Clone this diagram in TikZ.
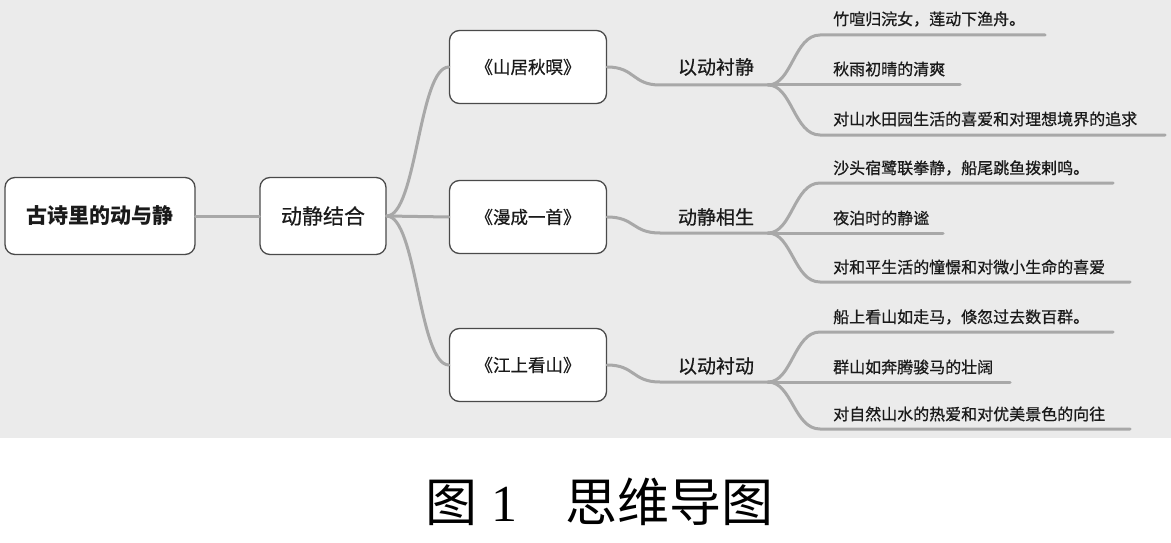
\documentclass[tikz,border=0pt]{standalone}
\usepackage{fontspec}
\setmainfont{Noto Sans CJK SC}
\newfontfamily\cjk{Noto Sans CJK SC}
\newfontfamily\cjkm[FakeBold=0.7]{Noto Sans CJK SC}
\newfontfamily\numserif{Liberation Serif}
\begin{document}
\begin{tikzpicture}[x=1pt,y=-1pt,
  box/.style={draw=boxline, fill=white, line width=1.3pt, rounded corners=10pt, inner sep=0pt, align=center, text=txt},
  rootbox/.style={box, minimum width=190pt, minimum height=77pt, font=\fontsize{21}{24}\selectfont\bfseries},
  midbox/.style={box, minimum width=126pt, minimum height=77pt, font=\cjkm\fontsize{21}{24}\selectfont},
  poembox/.style={box, minimum width=157pt, minimum height=73pt, font=\cjkm\fontsize{17.5}{20}\selectfont},
  lbl/.style={inner sep=0pt, text=txt, font=\cjkm\fontsize{19}{22}\selectfont},
  leaf/.style={anchor=west, inner sep=0pt, text=txt, font=\cjkm\fontsize{16}{19}\selectfont},
  conn/.style={draw=connc, line width=3pt, line cap=round}
]
\definecolor{bg}{HTML}{EBEBEB}
\definecolor{connc}{HTML}{A8A8A8}
\definecolor{boxline}{HTML}{4A4A4A}
\definecolor{txt}{HTML}{1A1A1A}
\useasboundingbox (0,0) rectangle (1171,543);
\fill[bg] (0,0) rectangle (1171,438);

% nodes
\node[rootbox] (root) at (100,216) {古诗里的动与静};
\node[midbox] (mid) at (323,216) {动静结合};
\node[poembox] (pA) at (528,67) {《山居秋暝》};
\node[poembox] (pB) at (528,217) {《漫成一首》};
\node[poembox] (pC) at (528,365) {《江上看山》};

\node[lbl] (lA) at (716,67) {以动衬静};
\node[lbl] (lB) at (716,217) {动静相生};
\node[lbl] (lC) at (716,366) {以动衬动};

% coordinates
\coordinate (bA) at (660,85);  \coordinate (fA) at (768,85);
\coordinate (bB) at (660,233); \coordinate (fB) at (768,233);
\coordinate (bC) at (660,382); \coordinate (fC) at (768,382);

\coordinate (a1s) at (820,35);  \coordinate (a1e) at (1045,35);
\coordinate (a2e) at (960,85);
\coordinate (a3s) at (820,135); \coordinate (a3e) at (1165,135);
\coordinate (b1s) at (820,183); \coordinate (b1e) at (1113,183);
\coordinate (b2e) at (943,233);
\coordinate (b3s) at (820,282); \coordinate (b3e) at (1130,282);
\coordinate (c1s) at (820,332); \coordinate (c1e) at (1113,332);
\coordinate (c2e) at (1010,382);
\coordinate (c3s) at (820,429); \coordinate (c3e) at (1130,429);

% connectors
\draw[conn] (root.east) -- (mid.west);
\draw[conn] (mid.east) .. controls +(30,0) and +(-30,0) .. (pA.west);
\draw[conn] (mid.east) -- (pB.west);
\draw[conn] (mid.east) .. controls +(30,0) and +(-30,0) .. (pC.west);

\draw[conn] (pA.east) .. controls +(28,0) and +(-28,0) .. (bA) -- (fA);
\draw[conn] (pB.east) .. controls +(28,0) and +(-28,0) .. (bB) -- (fB);
\draw[conn] (pC.east) .. controls +(28,0) and +(-28,0) .. (bC) -- (fC);

\draw[conn] (fA) .. controls +(24,0) and +(-26,0) .. (a1s) -- (a1e);
\draw[conn] (fA) -- (a2e);
\draw[conn] (fA) .. controls +(24,0) and +(-26,0) .. (a3s) -- (a3e);
\draw[conn] (fB) .. controls +(24,0) and +(-26,0) .. (b1s) -- (b1e);
\draw[conn] (fB) -- (b2e);
\draw[conn] (fB) .. controls +(24,0) and +(-26,0) .. (b3s) -- (b3e);
\draw[conn] (fC) .. controls +(24,0) and +(-26,0) .. (c1s) -- (c1e);
\draw[conn] (fC) -- (c2e);
\draw[conn] (fC) .. controls +(24,0) and +(-26,0) .. (c3s) -- (c3e);

% leaves
\node[leaf] (ta1) at (833,19) {竹喧归浣女，莲动下渔舟。};
\node[leaf] (ta2) at (833,69) {秋雨初晴的清爽};
\node[leaf] (ta3) at (833,119) {对山水田园生活的喜爱和对理想境界的追求};
\node[leaf] (tb1) at (833,168) {沙头宿鹭联拳静，船尾跳鱼拨剌鸣。};
\node[leaf] (tb2) at (833,218) {夜泊时的静谧};
\node[leaf] (tb3) at (833,267) {对和平生活的憧憬和对微小生命的喜爱};
\node[leaf] (tc1) at (833,317) {船上看山如走马，倏忽过去数百群。};
\node[leaf] (tc2) at (833,367) {群山如奔腾骏马的壮阔};
\node[leaf] (tc3) at (833,414) {对自然山水的热爱和对优美景色的向往};

% caption
\node[anchor=west, inner sep=0pt, text=black, font=\fontsize{52}{56}\selectfont] (cap) at (425,502)
  {\cjk 图\hspace{14pt}{\numserif 1}\hspace{48pt}思维导图};
\end{tikzpicture}
\end{document}
